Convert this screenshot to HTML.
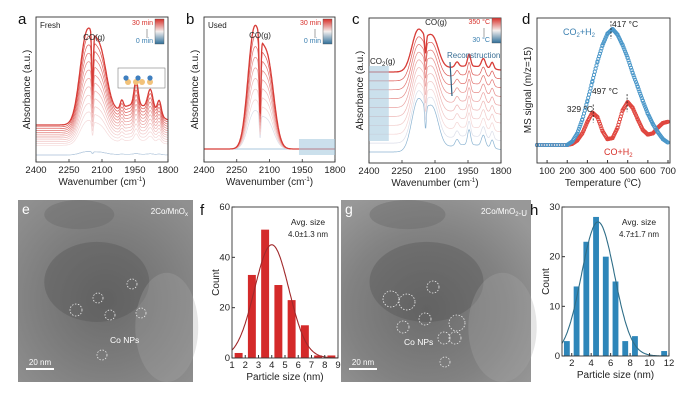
<!DOCTYPE html>
<html><head><meta charset="utf-8"><style>
body{margin:0;background:#fff}
svg{display:block;font-family:"Liberation Sans",sans-serif}
</style></head><body>
<svg id="fig" width="686" height="401" viewBox="0 0 686 401">
<defs>
<linearGradient id="cbar" x1="0" y1="0" x2="0" y2="1">
<stop offset="0" stop-color="#d7302a"/><stop offset="0.5" stop-color="#f4efee"/><stop offset="1" stop-color="#2f6f99"/></linearGradient>
<radialGradient id="tem1" cx="0.5" cy="0.55" r="0.7"><stop offset="0" stop-color="#6a6a6a"/><stop offset="0.5" stop-color="#7c7c7c"/><stop offset="1" stop-color="#909090"/></radialGradient>
<radialGradient id="tem2" cx="0.45" cy="0.6" r="0.7"><stop offset="0" stop-color="#6c6c6c"/><stop offset="0.6" stop-color="#828282"/><stop offset="1" stop-color="#989898"/></radialGradient>
</defs>
<g id="root"></g>
</svg>
<script>
// ---- data ----
const fBins=[1.5,2.5,3.5,4.5,5.5,6.5,7.5,8.5];
const fCounts=[2,33,51,29,23,13,1,1];
const fFit=[4.0,1.3,45];
const hBins=[1.5,2.5,3.5,4.5,5.5,6.5,7.5,8.5,9.5,10.5,11.5];
const hCounts=[3,14,23,28,20,15,3,4,0,0,1];
const hFit=[4.7,1.7,27];
const dTemps=[50,100,150,200,225,250,275,300,325,350,375,400,425,450,475,500,525,550,575,600,625,650,675,700];
const dCO2=[0,0,0,0,0.03,0.1,0.22,0.38,0.55,0.72,0.86,0.96,1.0,0.95,0.86,0.75,0.62,0.5,0.38,0.27,0.18,0.11,0.05,0.02];
const dCO=[0,0,0,0,0.01,0.04,0.1,0.2,0.28,0.24,0.12,0.05,0.06,0.15,0.3,0.37,0.32,0.22,0.13,0.09,0.1,0.15,0.19,0.2];
const aPeaks=[[2172,1,30],[2110,0.82,32],[2010,0.1,7],[1945,0.3,9],[1880,0.25,12],[1840,0.18,9],[1950,0.25,90]];
const bPeaks=[[2172,1,28],[2110,0.78,30]];
const cPeaks=[[2178,1,28],[2112,0.82,28],[2000,0.12,8],[1945,0.3,7],[1880,0.22,9],[1840,0.16,7],[1950,0.15,100]];
// ---- helpers ----
const NS="http://www.w3.org/2000/svg";const root=document.getElementById('root');
function el(t,a,p){const e=document.createElementNS(NS,t);for(const k in a)e.setAttribute(k,a[k]);(p||root).appendChild(e);return e;}
function txt(x,y,s,o){o=o||{};const e=el('text',{x:x,y:y,'font-size':o.fs||9,fill:o.fill||'#222','text-anchor':o.a||'middle'});if(o.rot)e.setAttribute('transform','rotate(-90 '+x+' '+y+')');e.innerHTML=s;return e;}
function lin(d0,d1,r0,r1){return v=>r0+(v-d0)/(d1-d0)*(r1-r0);}
function mix(c1,c2,t){return 'rgb('+[0,1,2].map(i=>Math.round(c1[i]+(c2[i]-c1[i])*t)).join(',')+')';}
function frame(x0,y0,x1,y1,name){const r=el('rect',{x:x0,y:y0,width:x1-x0,height:y1-y0,fill:'none',stroke:'#333','stroke-width':0.9});}
function letter(x,y,s){const t=txt(x,y,s,{fs:15,a:'start',fill:'#111'});}
function gau(peaks,w){let y=0;for(const p of peaks)y+=p[1]*Math.exp(-Math.pow((w-p[0])/p[2],2)/2);return y;}
function ftirPanel(x0,x1,y0,y1,peaks,n,baseFn,ampFn,notchDepth,name){
 const X=lin(2400,1800,x0,x1);
 for(let i=0;i<n;i++){const t=i/(n-1);let d='';
  for(let w=2400;w>=1800;w-=2){let v=gau(peaks,w)*(1-notchDepth*Math.exp(-Math.pow((w-2143)/5,2)));const y=baseFn(t,w)-ampFn(t)*v;d+=(d?'L':'M')+X(w).toFixed(1)+','+y.toFixed(1);}
  const col=t<0.12?mix([140,180,210],[225,225,235],t/0.12):mix([245,220,220],[215,60,55],Math.pow((t-0.12)/0.88,1.5));
  const p=el('path',{d:d,fill:'none',stroke:col,'stroke-width':i==n-1?1.3:0.7});
  }
 frame(x0,y0,x1,y1,name+'-frame');
 [2400,2250,2100,1950,1800].forEach(w=>{el('line',{x1:X(w),x2:X(w),y1:y1,y2:y1-3,stroke:'#333','stroke-width':0.8});const t=txt(X(w),y1+11,w,{fs:9.5});});
 const xl=txt((x0+x1)/2,y1+23,'Wavenumber (cm<tspan font-size="6" dy="-4">-1</tspan><tspan dy="4">)</tspan>',{fs:10});
 const yl=txt(x0-6,(y0+y1)/2,'Absorbance (a.u.)',{fs:10,rot:1});
 return X;}
function colorbar(x,y,top,bot,tc,bc){const r=el('rect',{x:x,y:y,width:9,height:25,fill:'url(#cbar)',stroke:'#555','stroke-width':0.4});
 txt(x-2,y+6,top,{fs:7,a:'end',fill:tc});txt(x-2,y+24,bot,{fs:7,a:'end',fill:bc});el('line',{x1:x-8,x2:x-8,y1:y+19,y2:y+10,stroke:'#666','stroke-width':0.6});}
// ---- panel a ----
letter(18,24,'a');
ftirPanel(36,168,17,162,aPeaks,14,(t,w)=>155-(t<0.1?0:6+t*24),t=>t<0.1?3:10+t*72,0.6,'panel-a');
txt(40,28,'Fresh',{fs:8,a:'start'});txt(94,40,'CO(g)',{fs:8});colorbar(155,19,'30 min','0 min','#d7302a','#3a7fb0');
[[128,82],[142,82],[136,82],[150,82]].forEach(c=>el('circle',{cx:c[0],cy:c[1],r:3,fill:'#f2c27a'}));
[[126,78],[138,78],[150,78]].forEach(c=>el('circle',{cx:c[0],cy:c[1],r:2.6,fill:'#3f7fbf'}));
el('rect',{x:118,y:68,width:47,height:20,fill:'none',stroke:'#666','stroke-width':0.5});
// ---- panel b ----
letter(186,24,'b');
const Xb=ftirPanel(204,335,17,162,bPeaks,10,(t,w)=>149,t=>t<0.1?0:25+t*86,0.7,'panel-b');
const sh=el('rect',{x:Xb(1965),y:139,width:Xb(1800)-Xb(1965),height:16,fill:'#a9cbe0',opacity:0.6});
txt(208,28,'Used',{fs:8,a:'start'});txt(260,38,'CO(g)',{fs:8});colorbar(323,19,'30 min','0 min','#d7302a','#3a7fb0');
// ---- panel c ----
letter(352,24,'c');
const Xc=ftirPanel(369,501,18,163,cPeaks,10,(t,w)=>152-t*80,t=>50-t*10,0.5,'panel-c');
const sh2=el('rect',{x:369,y:66,width:Xc(2310)-369,height:75,fill:'#a9cbe0',opacity:0.6});
txt(370,64,'CO<tspan font-size="6" dy="2">2</tspan><tspan dy="-2">(g)</tspan>',{fs:8,a:'start'});txt(436,25,'CO(g)',{fs:8});
txt(447,58,'Reconstruction',{fs:8,a:'start',fill:'#3a6f95'});el('line',{x1:450,x2:452,y1:62,y2:96,stroke:'#2f5f80','stroke-width':1.2});
colorbar(492,18,'350 °C','30 °C','#d7302a','#3a7fb0');
// ---- panel d ----
letter(522,24,'d');
{const X=lin(50,700,537,668),Y=lin(0,1,145,29);
 [[dCO,'#e0463f','co-h2-point'],[dCO2,'#4a97c9','co2-h2-point']].forEach(s=>{
  for(let i=0;i<dTemps.length-1;i++){const step=(dTemps[i+1]-dTemps[i])>30?12:4;for(let T=dTemps[i];T<dTemps[i+1];T+=step){const f=(T-dTemps[i])/(dTemps[i+1]-dTemps[i]);
   const v=s[0][i]+(s[0][i+1]-s[0][i])*f;
   const c=el('circle',{cx:X(T).toFixed(1),cy:Y(v).toFixed(1),r:1.6,fill:'none',stroke:s[1],'stroke-width':0.9});
   }}});
 frame(537,18,670,163,'panel-d-frame');
 [100,200,300,400,500,600,700].forEach(T=>{el('line',{x1:X(T),x2:X(T),y1:163,y2:160,stroke:'#333'});txt(X(T),174,T,{fs:9.5});});
 txt(603,186,'Temperature (<tspan font-size="6" dy="-4">o</tspan><tspan dy="4">C)</tspan>',{fs:10});
 txt(531,90,'MS signal (m/z=15)',{fs:10,rot:1});
 [[417,1],[329,0.28],[497,0.37]].forEach(p=>el('line',{x1:X(p[0]),x2:X(p[0]),y1:Y(p[1])-8,y2:Y(p[1])+10,stroke:'#222','stroke-dasharray':'2,1.5','stroke-width':0.8}));
 txt(612,27,'417 °C',{fs:8.5,a:'start'});txt(605,94,'497 °C',{fs:8.5});txt(593,112,'329 °C',{fs:8.5,a:'end'});
 txt(563,35,'CO<tspan font-size="6" dy="2">2</tspan><tspan dy="-2">+H</tspan><tspan font-size="6" dy="2">2</tspan>',{fs:9,fill:'#3a7fb0',a:'start'});
 txt(604,155,'CO+H<tspan font-size="6" dy="2">2</tspan>',{fs:9,fill:'#d7302a',a:'start'});}
// ---- TEM images ----
function tem(x,y,w,h,g,label,circles,name){const r=el('rect',{x:x,y:y,width:w,height:h,fill:'url(#'+g+')'});
 el('ellipse',{cx:x+w*0.45,cy:y+h*0.45,rx:w*0.3,ry:h*0.22,fill:'#555',opacity:0.4});
 el('ellipse',{cx:x+w*0.35,cy:y+h*0.08,rx:w*0.2,ry:h*0.08,fill:'#666',opacity:0.4});
 el('ellipse',{cx:x+w*0.85,cy:y+h*0.7,rx:w*0.18,ry:h*0.3,fill:'#a8a8a8',opacity:0.3});
 txt(x+4,y+14,label,{fs:14,a:'start',fill:'#fff'});
 el('rect',{x:x+8,y:y+h-14,width:28,height:2,fill:'#fff'});txt(x+22,y+h-17,'20 nm',{fs:8,fill:'#fff'});
 circles.forEach(c=>el('circle',{cx:x+c[0],cy:y+c[1],r:c[2],fill:'none',stroke:'#eee','stroke-dasharray':'1.5,1.5','stroke-width':0.8}));}
tem(18,200,175,182,'tem1','e',[[114,84,5],[80,98,5],[58,110,6],[92,115,5],[123,113,5],[84,155,5]],'tem-image-e');
txt(188,214,'2Co/MnO<tspan font-size="6" dy="2">x</tspan>',{fs:8,a:'end',fill:'#fff'});txt(110,343,'Co NPs',{fs:8.5,fill:'#fff',a:'start'});
tem(341,200,190,182,'tem2','g',[[92,87,6],[50,99,8],[66,102,8],[84,119,6],[116,123,8],[62,127,6],[103,138,6],[114,138,6],[104,162,5]],'tem-image-g');
txt(527,214,'2Co/MnO<tspan font-size="6" dy="2">2</tspan>-U',{fs:8,a:'end',fill:'#fff'});txt(404,345,'Co NPs',{fs:8.5,fill:'#fff',a:'start'});
// ---- histograms ----
function hist(x0,x1,y0,y1,xd,yd,bins,counts,fit,xt,yt,col,lcol,avg,name,lab){
 const X=lin(xd[0],xd[1],x0,x1),Y=lin(0,yd,y1,y0);const bw=(X(1)-X(0))*0.6;
 bins.forEach((b,i)=>{const r=el('rect',{x:X(b)-bw/2,y:Y(counts[i]),width:bw,height:y1-Y(counts[i]),fill:col});});
 let d='';for(let v=xd[0];v<=xd[1];v+=0.05){const y=fit[2]*Math.exp(-Math.pow((v-fit[0])/fit[1],2)/2);d+=(d?'L':'M')+X(v).toFixed(1)+','+Y(y).toFixed(1);}
 const p=el('path',{d:d,fill:'none',stroke:lcol,'stroke-width':1.1});
 frame(x0,y0,x1,y1,name+'-frame');
 xt.forEach(v=>{el('line',{x1:X(v),x2:X(v),y1:y1,y2:y1-3,stroke:'#333'});txt(X(v),y1+10,v,{fs:9.5});});
 yt.forEach(v=>{el('line',{x1:x0,x2:x0+3,y1:Y(v),y2:Y(v),stroke:'#333'});txt(x0-2,Y(v)+3,v,{fs:9.5,a:'end'});});
 txt((x0+x1)/2,y1+22,'Particle size (nm)',{fs:10});txt(x0-13,(y0+y1)/2,'Count',{fs:10,rot:1});
 txt(x1-30,y0+18,'Avg. size',{fs:8.5});txt(x1-30,y0+30,avg,{fs:8});letter(x0-32,y0+8,lab);}
hist(232,338,207,358,[1,9],60,fBins,fCounts,fFit,[1,2,3,4,5,6,7,8,9],[0,20,40,60],'#d42a2a','#a0282a','4.0±1.3 nm','panel-f','f');
hist(562,669,207,356,[1,12],30,hBins,hCounts,hFit,[2,4,6,8,10,12],[0,10,20,30],'#2e86b9','#2f6e88','4.7±1.7 nm','panel-h','h');
</script>
</body></html>
